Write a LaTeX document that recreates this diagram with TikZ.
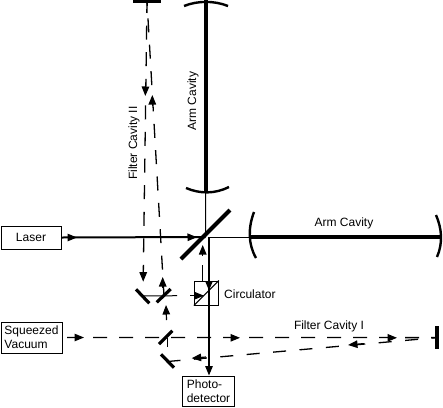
\documentclass[tikz,border=0pt]{standalone}
\usepackage{fontspec}
\setmainfont{Liberation Sans}
\usetikzlibrary{arrows.meta,calc}
\tikzset{
  box/.style={draw,line width=1pt,inner sep=0pt,font=\fontsize{12}{14}\selectfont,align=left},
  lbl/.style={inner sep=0pt,font=\fontsize{12}{14}\selectfont},
  mirror/.style={line width=4pt},
  cavity/.style={line width=3.8pt},
  curved/.style={line width=2.4pt},
  thin beam/.style={line width=1pt},
  beam/.style={line width=2pt},
  dbeam/.style={line width=1.3pt,dash pattern=on 14pt off 12pt},
  hd/.style={line width=1.2pt,-{Triangle[length=9.5pt,width=7.5pt]}},
}
\begin{document}
\begin{tikzpicture}[x=1pt,y=-1pt]
\useasboundingbox (0,0) rectangle (443,407);
% boxes
\node[box,minimum width=60pt,minimum height=23pt] (laser) at (31,237.5) {Laser};
\node[box,minimum width=61pt,minimum height=31pt] (squeezed) at (31.5,337.5) {Squeezed\\Vacuum};
\node[box,minimum width=52pt,minimum height=30pt] (photo) at (208.5,391) {Photo-\\detector};
\node[draw,line width=1pt,minimum size=24pt,inner sep=0pt] (circ) at (206.3,293) {};
\draw[line width=1pt] (circ.south west) -- (circ.north east);
% coordinates
\coordinate (bs) at (205.5,237);
\coordinate (bsr) at (209,237);
\coordinate (topm) at (147,1.5);
\coordinate (m1) at (143,296);
\coordinate (m2) at (164,296);
\coordinate (m3) at (166,337.5);
\coordinate (m4) at (167.5,361.5);
\coordinate (endm) at (437,337.6);
\coordinate (fy) at (61,237.5);
\coordinate (armTop) at (205.7,0);
\coordinate (armTopEnd) at (205.7,192);
\coordinate (armR) at (441,237);
\coordinate (armL) at (250,237);
% mirrors
\draw[mirror] (181,259) -- (230,210);
\draw[mirror,line width=3.2pt] (132.7,1) -- (161,1);
\draw[mirror,line width=3.2pt] (136,289.3) -- (149.3,303.3);
\draw[mirror,line width=3.2pt] (156.7,302.3) -- (170.7,289);
\draw[mirror,line width=3.2pt] (159,344) -- (172.3,330.7);
\draw[mirror,line width=3.2pt] (161,354.3) -- (174,367.7);
\draw[mirror,line width=3.2pt] (437,326) -- (437,349);
% arm cavities
\draw[cavity] (armTop) -- (armTopEnd);
\draw[curved] (184,6) .. controls (198,0.5) and (214,0.5) .. (228,6);
\draw[curved] (186,188) .. controls (200,194) and (215,194) .. (229,187);
\draw[cavity] (armL) -- (armR);
\draw[curved] (254,212) .. controls (248,228) and (248,244) .. (256,258);
\draw[curved] (436,215) .. controls (442,229) and (443,243) .. (437,257);
% main beams
\draw[thin beam] (armTopEnd) -- (bs);
\draw[thin beam] (bsr) -- (armL);
\draw[beam] (laser.east) -- (bs);
\draw[hd] (fy) -- (77,237.5);
\draw[hd] (185,237.3) -- (197,237.2);
\draw[hd,line width=1.3pt] (bsr) -- (bsr |- photo.north);
% circulator arrows
\draw[dbeam,dash pattern=on 16pt off 10pt] (202.7,281) -- (202.7,248);
\draw[hd] (209,280) -- (209,290.5);
\draw[hd] (202.7,256) -- (202.7,245);
\draw[thin beam] (m1) -- (177,295.7);
\draw[hd,line width=1pt] (190,295.7) -- (204,295.7);
% filter cavity II
\draw[dbeam,dash pattern=on 14pt off 12.6pt,dash phase=2.5pt] (topm) -- (143.3,273);
\draw[hd] (143.2,270) -- (143.2,281.7);
\draw[hd] (145.5,86) -- (145.3,96);
\draw[dbeam,dash pattern=on 14pt off 12.4pt,dash phase=9.5pt] (topm) -- (m2);
\draw[hd] (162.7,288) -- (162.7,277);
\draw[hd] (152.3,106) -- (152.3,95);
% lower vertical
\draw[thin beam] (167.3,347) -- (167.3,338);
\draw[hd] (166.5,320) -- (166,305);
% filter cavity I
\draw[dbeam] (squeezed.east -| 67,337.5) -- (endm);
\draw[hd] (70,337.5) -- (84,337.5);
\draw[hd] (228,337.8) -- (240,337.8);
\draw[hd] (386,337.8) -- (397,337.8);
\draw[dbeam,dash pattern=on 13pt off 13.5pt] (m4) -- (endm);
\draw[hd] (206,357) -- (191.7,358.2);
\draw[hd] (364,343.6) -- (348,345);
% labels
\node[lbl,rotate=90] (fc2) at (134,143) {Filter Cavity II};
\node[lbl,rotate=90] (ac1) at (193,101) {Arm Cavity};
\node[lbl] (ac2) at (344,223) {Arm Cavity};
\node[lbl] (fc1) at (329,326) {Filter Cavity I};
\node[lbl,anchor=west] (cl) at (224,294) {Circulator};
\end{tikzpicture}
\end{document}
